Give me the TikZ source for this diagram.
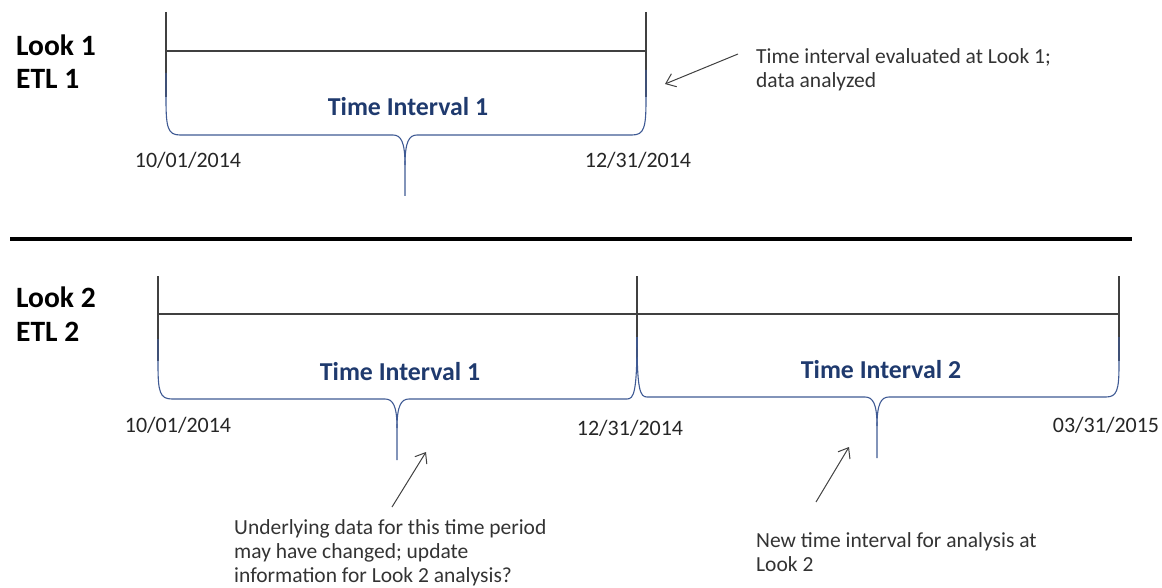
\documentclass[tikz,border=0pt]{standalone}
\usepackage{fontspec}
\setmainfont{Carlito}
\usetikzlibrary{arrows.meta}
\definecolor{navy}{HTML}{1F3A6E}
\definecolor{bracec}{HTML}{3F5A94}
\definecolor{linec}{HTML}{404040}
\begin{document}
\begin{tikzpicture}[x=1pt,y=-1pt,
  tick/.style={draw=linec,line width=1.1pt},
  brc/.style={draw=bracec,line width=1.1pt},
  lbl/.style={text=navy,font=\fontsize{25.8}{30}\selectfont\bfseries,inner sep=0pt},
  datel/.style={text=black!85,font=\fontsize{22}{26}\selectfont,inner sep=0pt},
  look/.style={text=black,font=\fontsize{29.5}{34}\selectfont\bfseries,inner sep=0pt,anchor=west},
  note/.style={text=black!80,font=\fontsize{21.5}{24}\selectfont,inner sep=0pt,anchor=north west,align=left},
  arr/.style={draw=black!75,line width=1pt,-{Straight Barb[length=9pt,width=14pt]}}]
\useasboundingbox (0,0) rectangle (1162,588);
% ---------- top ----------
\node[look] (look1) at (16,45) {Look 1};
\node[look] (etl1) at (16,79) {ETL 1};
\draw[tick] (166,12) -- (166,97);
\draw[tick] (646,12) -- (646,97);
\draw[tick] (166,51) -- (646,51);
\draw[brc] (166,73) -- (166,100) .. controls (166,128) and (168,135) .. (180,135)
  -- (393,135) .. controls (401,135) and (405,142) .. (405,165) -- (405,196);
\draw[brc] (405,165) .. controls (405,142) and (409,135) .. (417,135)
  -- (632,135) .. controls (644,135) and (646,128) .. (646,100) -- (646,70);
\node[lbl] (ti1a) at (408,107) {Time Interval 1};
\node[datel] (d1) at (188,160) {10/01/2014};
\node[datel] (d2) at (638,160) {12/31/2014};
\node[note] (n1) at (756,48) {Time interval evaluated at Look 1;\\data analyzed};
\coordinate (a1s) at (738,54);
\coordinate (a1e) at (665,84);
\draw[arr] (a1s) -- (a1e);
% ---------- divider ----------
\draw[line width=3.5pt,black] (10,239) -- (1132,239);
% ---------- bottom ----------
\node[look] (look2) at (16,297) {Look 2};
\node[look] (etl2) at (16,332) {ETL 2};
\draw[tick] (158,276) -- (158,361);
\draw[tick] (637,276) -- (637,362);
\draw[tick] (1119,276) -- (1119,361);
\draw[tick] (158,314) -- (1119,314);
% brace 1
\draw[brc] (158,339) -- (158,365) .. controls (158,392) and (160,399) .. (172,399)
  -- (385,399) .. controls (393,399) and (397,406) .. (397,428) -- (397,460);
\draw[brc] (397,428) .. controls (397,406) and (401,399) .. (409,399)
  -- (627,399) .. controls (634,399) and (637,392) .. (637,337);
% brace 2
\draw[brc] (637,337) .. controls (637,390) and (640,397) .. (647,397)
  -- (865,397) .. controls (873,397) and (877,404) .. (877,426) -- (877,458);
\draw[brc] (877,426) .. controls (877,404) and (881,397) .. (889,397)
  -- (1106,397) .. controls (1117,397) and (1119,390) .. (1119,365) -- (1119,337);
\node[lbl] (ti1b) at (400,372) {Time Interval 1};
\node[lbl] (ti2) at (881,370) {Time Interval 2};
\node[datel] (d3) at (178,425) {10/01/2014};
\node[datel] (d4) at (630,428) {12/31/2014};
\node[datel] (d5) at (1106,425) {03/31/2015};
\node[note] (n2) at (234,519) {Underlying data for this time period\\may have changed; update\\information for Look 2 analysis?};
\node[note] (n3) at (756,532) {New time interval for analysis at\\Look 2};
\coordinate (a2s) at (392,507);
\coordinate (a2e) at (426,452);
\coordinate (a3s) at (816,502);
\coordinate (a3e) at (849,447);
\draw[arr] (a2s) -- (a2e);
\draw[arr] (a3s) -- (a3e);
\end{tikzpicture}
\end{document}
